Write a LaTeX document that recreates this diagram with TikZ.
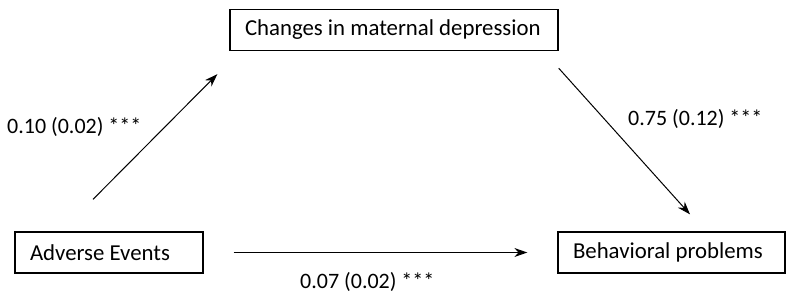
\documentclass[tikz,border=0pt]{standalone}
\usepackage{fontspec}
\setmainfont{Carlito}
\usetikzlibrary{arrows.meta,positioning}

\begin{document}
\begin{tikzpicture}[
    x=1pt, y=-1pt,
    box/.style={rectangle,draw,line width=1.3pt,minimum height=41pt,inner xsep=15pt,inner ysep=0pt,align=flush left,font=\fontsize{22.8}{26}\selectfont},
    coef/.style={inner sep=0pt,font=\fontsize{22}{26}\selectfont},
    effect/.style={-{Stealth[length=13pt,width=9pt]},line width=1pt}
]
\useasboundingbox (0,0) rectangle (795,297);
\node[box,text width=298pt] (maternal) at (394,30) {Changes in maternal depression};
\node[box,text width=158pt] (adverse) at (109,252.5) {Adverse Events};
\node[box,text width=197pt] (behavior) at (671.5,252.5) {Behavioral problems};

\coordinate[above left=32pt and 16pt of adverse.north] (a-start);
\coordinate[below left=23pt and 12pt of maternal.south west] (a-end);
\coordinate[below=17pt of maternal.south east] (b-start);
\coordinate[above right=17pt and 18.5pt of behavior.north] (b-end);
\coordinate[right=30pt of adverse.east] (c-start);
\coordinate[left=30pt of behavior.west] (c-end);

\draw[effect] (a-start) -- (a-end);
\draw[effect] (b-start) -- (b-end);
\draw[effect] (c-start) -- (c-end);

\node[coef,anchor=west] (a-coef) at (7,126.5) {0.10 (0.02) ***};
\node[coef,anchor=west] (b-coef) at (628,119) {0.75 (0.12) ***};
\node[coef,anchor=west] (c-coef) at (300,282) {0.07 (0.02) ***};
\end{tikzpicture}
\end{document}
